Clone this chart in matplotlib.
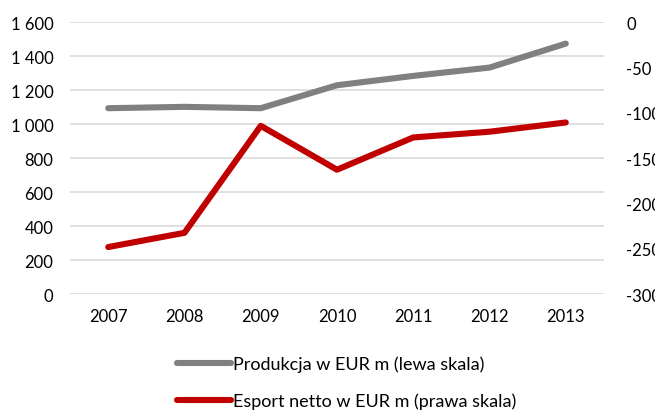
import matplotlib
matplotlib.use('Agg')
import matplotlib.pyplot as plt
from matplotlib.lines import Line2D
from matplotlib.ticker import FuncFormatter

years = ['2007', '2008', '2009', '2010', '2011', '2012', '2013']
produkcja = [1093, 1101, 1093, 1228, 1283, 1332, 1473]
esport = [-248.2, -232.5, -114.5, -162.9, -127.3, -121.0, -110.8]

left_ticks = [0, 200, 400, 600, 800, 1000, 1200, 1400, 1600]
right_ticks = [-300, -250, -200, -150, -100, -50, 0]

GRAY = '#808080'
RED = '#c00000'
TXT = '#000000'

plt.rcParams['font.family'] = ['Lato', 'DejaVu Sans']
plt.rcParams['axes.unicode_minus'] = False

fig = plt.figure(figsize=(6.55, 4.14), dpi=100)
ax = fig.add_axes([0.107, 0.2874, 0.815, 0.657])
ax2 = ax.twinx()

x = list(range(len(years)))
ax.plot(x, produkcja, color=GRAY, lw=4.4, solid_capstyle='round', zorder=3)
ax2.plot(x, esport, color=RED, lw=4.4, solid_capstyle='round', zorder=3)

ax.set_xlim(-0.5, len(years) - 0.5)
ax.set_ylim(0, 1600)
ax.set_yticks(left_ticks)
ax.yaxis.set_major_formatter(FuncFormatter(lambda v, p: f'{int(v):,}'.replace(',', ' ')))
ax2.set_ylim(-300, 0)
ax2.set_yticks(right_ticks)
ax.set_xticks(x)
ax.set_xticklabels(years)

ax.grid(axis='y', color='#d9d9d9', lw=1.2)
ax.set_axisbelow(True)
for a in (ax, ax2):
    for s in a.spines.values():
        s.set_visible(False)
    a.tick_params(length=0, labelsize=12, colors=TXT)
ax.tick_params(axis='y', pad=12)
ax.tick_params(axis='x', pad=10)
ax2.tick_params(axis='y', pad=16)

handles = [Line2D([], [], color=GRAY, lw=4.4, solid_capstyle='round'),
           Line2D([], [], color=RED, lw=4.4, solid_capstyle='round')]
labels = ['Produkcja w EUR m (lewa skala)', 'Esport netto w EUR m (prawa skala)']
fig.legend(handles, labels, loc='lower left', bbox_to_anchor=(0.245, -0.03),
           frameon=False, fontsize=13, handlelength=3.0, handletextpad=0.1,
           labelspacing=1.15)

fig.savefig('out.png', dpi=100)
